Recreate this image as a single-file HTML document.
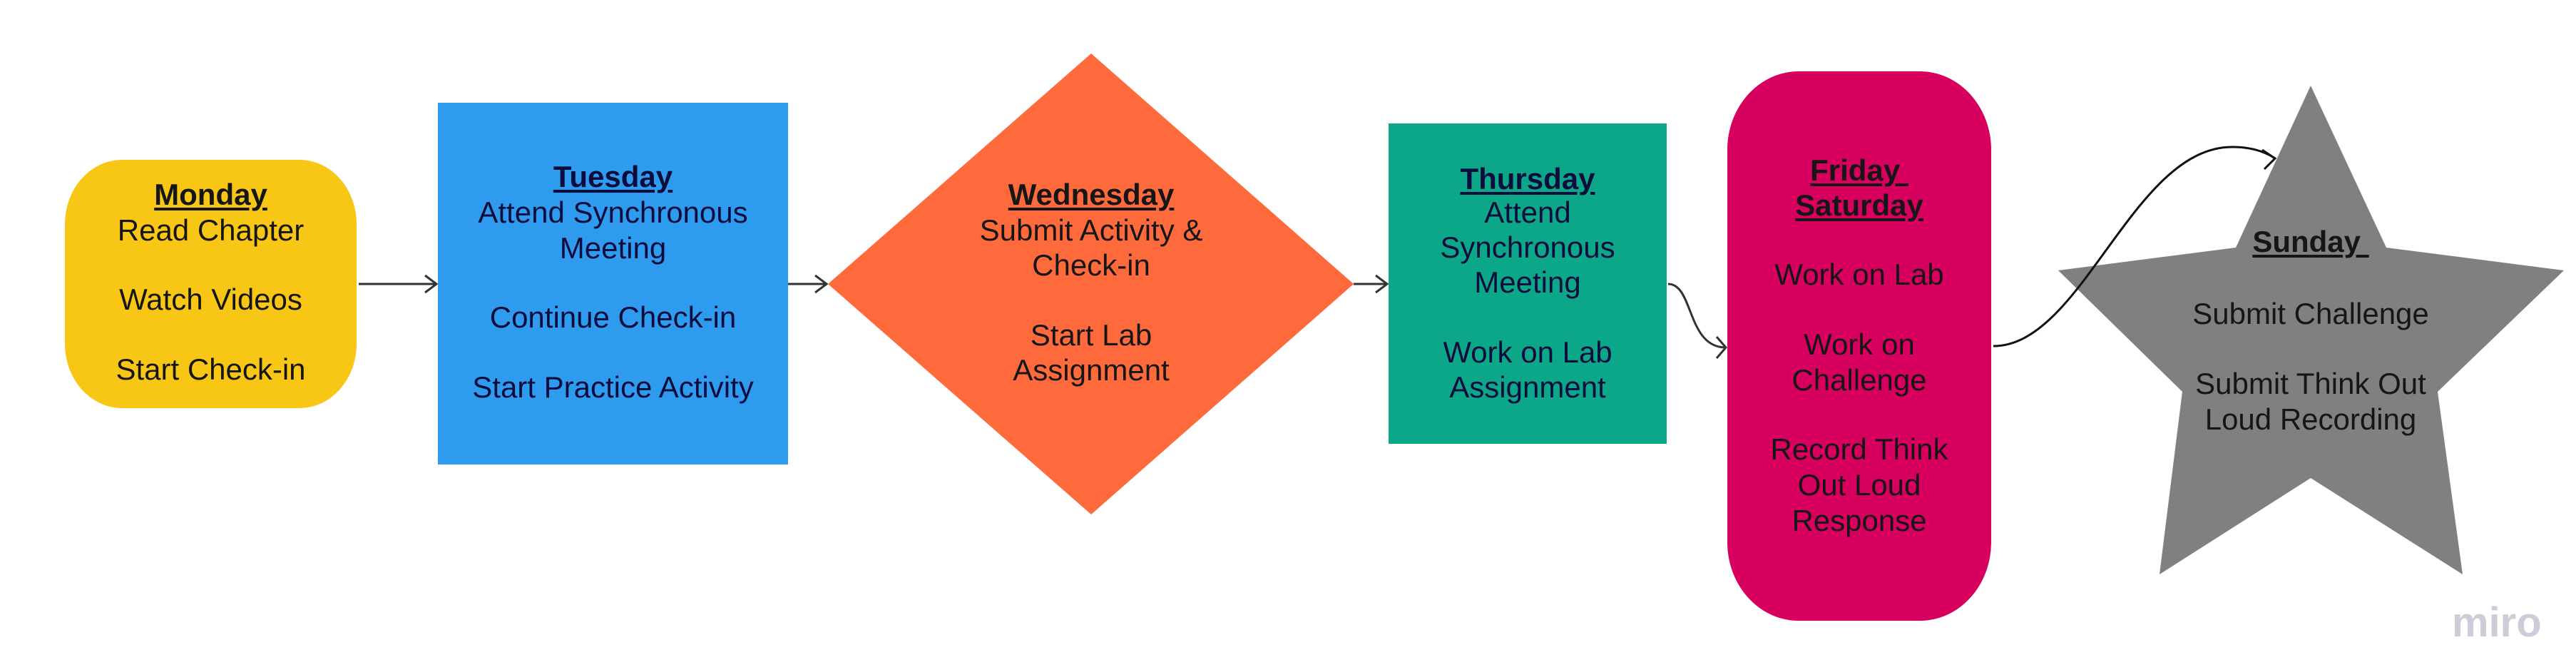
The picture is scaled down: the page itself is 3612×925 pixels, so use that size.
<!DOCTYPE html>
<html><head><meta charset="utf-8"><style>
body{margin:0;width:3612px;height:925px;background:#fff;position:relative;overflow:hidden;font-family:"Liberation Sans",Arial,sans-serif}
.s{position:absolute}
.t{position:absolute;text-align:center;font-size:42px;line-height:50px;height:50px;white-space:nowrap;color:#161616}
.n{color:#0d0d3d}
.h{font-weight:bold;text-decoration:underline;text-decoration-thickness:4px;text-underline-offset:4px}
</style></head><body>
<div class="s" style="left:91px;top:224px;width:409px;height:348px;background:#f8c614;border-radius:80px/90px"></div>
<div class="s" style="left:614px;top:144px;width:491px;height:507px;background:#2e9bef"></div>
<div class="s" style="left:1947px;top:173px;width:390px;height:449px;background:#0ca789"></div>
<div class="s" style="left:2422px;top:100px;width:370px;height:770px;background:#d8005f;border-radius:100px/110px"></div>
<svg class="s" style="left:0;top:0" width="3612" height="925">
<polygon points="1530,75 1898,398 1530,721 1161,398" fill="#ff6a3d"/>
<polygon points="3240,120 3346,347 3595,379 3418,549 3453,805 3240,670 3028,805 3060,549 2886,379 3135,347" fill="#808080"/>
<g fill="none" stroke="#333" stroke-width="3">
<path d="M503 398H612M596 386L612 398L596 410"/>
<path d="M1105 398H1159M1143 386L1159 398L1143 410"/>
<path d="M1898 398H1945M1929 386L1945 398L1929 410"/>
<path d="M2339 398C2375 398 2365 487 2420 487M2407 472L2420 487L2407 502"/>
<path d="M2795 485C2920 485 2990 206 3130 206C3160 206 3178 214 3190 222M3172 210L3190 222L3175 237" stroke="#111"/>
</g>
</svg>
<div class="t h" style="left:91px;width:409px;top:248px">Monday</div>
<div class="t" style="left:91px;width:409px;top:298px">Read Chapter</div>
<div class="t" style="left:91px;width:409px;top:395px">Watch Videos</div>
<div class="t" style="left:91px;width:409px;top:493px">Start Check-in</div>
<div class="t n h" style="left:614px;width:491px;top:223px">Tuesday</div>
<div class="t n" style="left:614px;width:491px;top:273px">Attend Synchronous</div>
<div class="t n" style="left:614px;width:491px;top:323px">Meeting</div>
<div class="t n" style="left:614px;width:491px;top:420px">Continue Check-in</div>
<div class="t n" style="left:614px;width:491px;top:518px">Start Practice Activity</div>
<div class="t h" style="left:1280px;width:500px;top:248px">Wednesday</div>
<div class="t" style="left:1280px;width:500px;top:298px">Submit Activity &amp;</div>
<div class="t" style="left:1280px;width:500px;top:347px">Check-in</div>
<div class="t" style="left:1280px;width:500px;top:445px">Start Lab</div>
<div class="t" style="left:1280px;width:500px;top:494px">Assignment</div>
<div class="t n h" style="left:1947px;width:390px;top:226px">Thursday</div>
<div class="t n" style="left:1947px;width:390px;top:273px">Attend</div>
<div class="t n" style="left:1947px;width:390px;top:322px">Synchronous</div>
<div class="t n" style="left:1947px;width:390px;top:371px">Meeting</div>
<div class="t n" style="left:1947px;width:390px;top:469px">Work on Lab</div>
<div class="t n" style="left:1947px;width:390px;top:518px">Assignment</div>
<div class="t h" style="left:2422px;width:370px;top:214px">Friday&nbsp;</div>
<div class="t h" style="left:2422px;width:370px;top:263px">Saturday</div>
<div class="t" style="left:2422px;width:370px;top:360px">Work on Lab</div>
<div class="t" style="left:2422px;width:370px;top:458px">Work on</div>
<div class="t" style="left:2422px;width:370px;top:508px">Challenge</div>
<div class="t" style="left:2422px;width:370px;top:605px">Record Think</div>
<div class="t" style="left:2422px;width:370px;top:655px">Out Loud</div>
<div class="t" style="left:2422px;width:370px;top:705px">Response</div>
<div class="t h" style="left:2990px;width:500px;top:314px">Sunday&nbsp;</div>
<div class="t" style="left:2990px;width:500px;top:415px">Submit Challenge</div>
<div class="t" style="left:2990px;width:500px;top:513px">Submit Think Out</div>
<div class="t" style="left:2990px;width:500px;top:563px">Loud Recording</div>
<div class="s" style="left:3438px;top:838px;font-size:58px;line-height:70px;font-weight:bold;color:#cdccd8">miro</div>
</body></html>
